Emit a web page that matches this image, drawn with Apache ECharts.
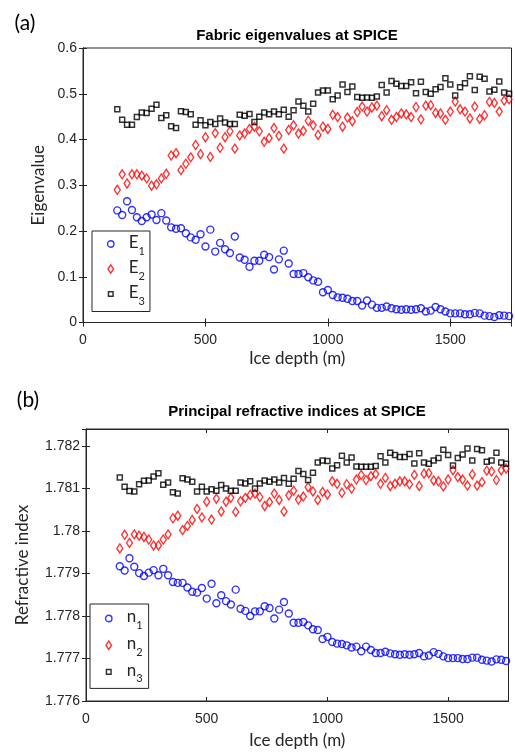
<!DOCTYPE html>
<html><head><meta charset="utf-8">
<script src="https://cdn.jsdelivr.net/npm/echarts@6/dist/echarts.min.js"></script>
<style>html,body{margin:0;padding:0;background:#fff;}#c{width:515px;height:754px;}</style>
</head><body><div id="c"></div>
<script>
const depth = [140,160,180,200,220,240,260,280,300,320,340,360,380,400,420,440,460,480,500,520,540,560,580,600,620,640,660,680,700,720,740,760,780,800,820,840,860,880,900,920,940,960,980,1000,1020,1040,1060,1080,1100,1120,1140,1160,1180,1200,1220,1240,1260,1280,1300,1320,1340,1360,1380,1400,1420,1440,1460,1480,1500,1520,1540,1560,1580,1600,1620,1640,1660,1680,1700,1720,1740];

const E1 = [0.245,0.235,0.265,0.246,0.230,0.222,0.230,0.236,0.224,0.239,0.223,0.208,0.205,0.206,0.195,0.186,0.181,0.193,0.166,0.203,0.155,0.174,0.160,0.152,0.188,0.142,0.137,0.122,0.135,0.135,0.148,0.143,0.116,0.138,0.157,0.129,0.106,0.106,0.108,0.099,0.092,0.089,0.066,0.071,0.060,0.055,0.054,0.052,0.047,0.047,0.037,0.048,0.039,0.032,0.032,0.035,0.031,0.029,0.028,0.029,0.028,0.029,0.031,0.024,0.026,0.034,0.029,0.024,0.020,0.020,0.020,0.018,0.018,0.021,0.020,0.015,0.014,0.012,0.016,0.015,0.014];
const E2 = [0.290,0.324,0.304,0.324,0.324,0.321,0.315,0.299,0.302,0.315,0.325,0.365,0.370,0.333,0.347,0.361,0.388,0.368,0.405,0.362,0.414,0.382,0.405,0.418,0.380,0.409,0.413,0.423,0.428,0.418,0.395,0.403,0.425,0.408,0.380,0.421,0.431,0.413,0.419,0.441,0.431,0.410,0.428,0.423,0.454,0.449,0.428,0.448,0.440,0.460,0.472,0.461,0.470,0.474,0.451,0.464,0.443,0.449,0.457,0.455,0.449,0.471,0.444,0.474,0.475,0.458,0.457,0.443,0.461,0.483,0.466,0.461,0.446,0.472,0.445,0.453,0.482,0.480,0.461,0.485,0.488];
const E3 = [0.466,0.443,0.432,0.432,0.449,0.459,0.458,0.467,0.476,0.447,0.453,0.429,0.425,0.462,0.460,0.455,0.432,0.442,0.431,0.438,0.434,0.446,0.437,0.434,0.434,0.454,0.452,0.456,0.438,0.450,0.459,0.455,0.461,0.455,0.465,0.450,0.464,0.483,0.474,0.461,0.478,0.503,0.507,0.507,0.488,0.496,0.520,0.504,0.516,0.493,0.491,0.492,0.491,0.494,0.519,0.503,0.528,0.522,0.517,0.517,0.525,0.501,0.526,0.504,0.500,0.510,0.515,0.534,0.520,0.496,0.514,0.523,0.538,0.508,0.537,0.533,0.505,0.509,0.527,0.503,0.500];

const n1 = [1.77917,1.77907,1.77936,1.77916,1.77901,1.77894,1.77902,1.77908,1.77896,1.77911,1.77896,1.77880,1.77878,1.77878,1.77867,1.77857,1.77855,1.77866,1.77841,1.77876,1.77830,1.77849,1.77835,1.77827,1.77862,1.77817,1.77812,1.77800,1.77811,1.77811,1.77823,1.77819,1.77794,1.77815,1.77833,1.77806,1.77784,1.77784,1.77786,1.77778,1.77769,1.77767,1.77746,1.77751,1.77739,1.77735,1.77734,1.77731,1.77726,1.77728,1.77717,1.77728,1.77720,1.77713,1.77713,1.77716,1.77712,1.77710,1.77709,1.77710,1.77709,1.77710,1.77713,1.77705,1.77707,1.77715,1.77711,1.77705,1.77701,1.77701,1.77701,1.77699,1.77699,1.77702,1.77702,1.77697,1.77695,1.77693,1.77698,1.77697,1.77694];
const n2 = [1.77959,1.77991,1.77972,1.77992,1.77989,1.77986,1.77980,1.77966,1.77966,1.77980,1.77992,1.78030,1.78036,1.78002,1.78012,1.78026,1.78052,1.78032,1.78069,1.78027,1.78076,1.78046,1.78069,1.78078,1.78045,1.78070,1.78078,1.78085,1.78088,1.78080,1.78059,1.78068,1.78088,1.78073,1.78046,1.78084,1.78095,1.78074,1.78081,1.78103,1.78093,1.78073,1.78092,1.78086,1.78117,1.78111,1.78090,1.78110,1.78100,1.78121,1.78132,1.78120,1.78129,1.78134,1.78111,1.78125,1.78106,1.78111,1.78117,1.78117,1.78110,1.78132,1.78106,1.78135,1.78136,1.78119,1.78117,1.78105,1.78121,1.78143,1.78127,1.78121,1.78107,1.78133,1.78107,1.78115,1.78142,1.78140,1.78120,1.78143,1.78147];
const n3 = [1.78126,1.78104,1.78094,1.78093,1.78110,1.78118,1.78119,1.78128,1.78136,1.78109,1.78114,1.78091,1.78088,1.78124,1.78121,1.78116,1.78093,1.78104,1.78093,1.78098,1.78095,1.78108,1.78100,1.78095,1.78095,1.78114,1.78112,1.78117,1.78100,1.78112,1.78119,1.78116,1.78121,1.78114,1.78125,1.78111,1.78123,1.78141,1.78134,1.78120,1.78137,1.78161,1.78166,1.78165,1.78147,1.78155,1.78177,1.78161,1.78173,1.78152,1.78151,1.78151,1.78151,1.78153,1.78176,1.78161,1.78184,1.78179,1.78174,1.78174,1.78181,1.78159,1.78183,1.78161,1.78158,1.78166,1.78172,1.78191,1.78179,1.78154,1.78172,1.78180,1.78194,1.78166,1.78193,1.78190,1.78163,1.78166,1.78184,1.78161,1.78158];

const xTicks = [0, 500, 1000, 1500];
const yTicksA = [0, 0.1, 0.2, 0.3, 0.4, 0.5, 0.6];
const yTicksB = [1.776, 1.777, 1.778, 1.779, 1.78, 1.781, 1.782];

const TXT = '#262626';
const tickFont = '"Liberation Sans", Arial, sans-serif';
const nameFont = 'Lato, "Open Sans", sans-serif';

const pairs = ys => depth.map((d, i) => [d, ys[i]]);

function xAx(grid, pos, show, gap) {
  return {
    type: 'value', gridIndex: grid, position: pos, min: 0, max: 1750, interval: 500,
    axisLine: { show: true, lineStyle: { color: TXT, width: 1 } },
    axisTick: { show: true, inside: true, length: 4, lineStyle: { color: TXT } },
    axisLabel: { show: show, color: TXT, fontSize: 14, fontFamily: tickFont, margin: 11,
      formatter: v => xTicks.includes(v) ? String(v) : '' },
    splitLine: { show: false },
    name: show ? 'Ice depth (m)' : '', nameLocation: 'middle', nameGap: gap,
    nameTextStyle: { color: TXT, fontSize: 17, fontFamily: nameFont }
  };
}
function yAx(grid, pos, show, min, max, interval, ticks, name, gap) {
  return {
    type: 'value', gridIndex: grid, position: pos, min: min, max: max, interval: interval,
    axisLine: { show: true, lineStyle: { color: TXT, width: 1 } },
    axisTick: { show: true, inside: true, length: 4, lineStyle: { color: TXT } },
    axisLabel: { show: show, color: TXT, fontSize: 14, fontFamily: tickFont, margin: 6,
      formatter: v => {
        const t = ticks.find(k => Math.abs(k - v) < interval * 1e-3);
        return t === undefined ? '' : String(t);
      } },
    splitLine: { show: false },
    name: show ? name : '', nameLocation: 'middle', nameGap: gap,
    nameTextStyle: { color: TXT, fontSize: 17, fontFamily: nameFont }
  };
}

const circleStyle = { color: 'rgba(0,0,0,0)', borderColor: '#0000ff', borderWidth: 1.4 };
const diamondStyle = { color: 'rgba(0,0,0,0)', borderColor: '#ff0000', borderWidth: 1.4 };
const squareStyle = { color: 'rgba(0,0,0,0)', borderColor: '#000000', borderWidth: 1.5 };

function scat(name, ys, xi, yi, symbol, size, style) {
  return { type: 'scatter', name: name, xAxisIndex: xi, yAxisIndex: yi, data: pairs(ys),
    symbol: symbol, symbolSize: size, itemStyle: style, silent: true, z: 3 };
}

const iconCircle = 'path://M0,0M9,9M7.7,4.5A3.2,3.2,0,1,1,1.3,4.5A3.2,3.2,0,1,1,7.7,4.5Z';
const iconDiamond = 'path://M0,0M9,9M4.5,0.3L7.3,4.5L4.5,8.7L1.7,4.5Z';
const iconSquare = 'path://M0,0M9,9M2.2,2.2L6.8,2.2L6.8,6.8L2.2,6.8Z';

const rich = {
  b: { fontSize: 17, lineHeight: 20, verticalAlign: 'top', padding: [0, 0, 0, 8.5], fontFamily: nameFont, color: TXT },
  s: { fontSize: 11, lineHeight: 12, padding: [11.5, 0, 0, 0], verticalAlign: 'top', fontFamily: nameFont, color: TXT }
};
function legend(names, left, top, gap, pad) {
  return {
    orient: 'vertical', left: left, top: top, itemWidth: 9, itemHeight: 9, itemGap: gap,
    padding: pad, borderColor: '#262626', borderWidth: 1, backgroundColor: '#fff',
    symbolKeepAspect: true,
    data: [
      { name: names[0], icon: iconCircle, itemStyle: circleStyle },
      { name: names[1], icon: iconDiamond, itemStyle: diamondStyle },
      { name: names[2], icon: iconSquare, itemStyle: squareStyle }
    ],
    formatter: n => '{b|' + n.charAt(0) + '}{s|' + n.slice(1) + '}',
    textStyle: { rich: rich }, selectedMode: false
  };
}

const chart = echarts.init(document.getElementById('c'), null, { renderer: 'canvas' });
chart.setOption({
  animation: false,
  backgroundColor: '#ffffff',
  grid: [
    { left: 83, top: 48, width: 428.5, height: 274.5, show: true, borderColor: TXT, borderWidth: 1, containLabel: false },
    { left: 86, top: 429, width: 422.5, height: 272, show: true, borderColor: TXT, borderWidth: 1, containLabel: false }
  ],
  xAxis: [ xAx(0, 'bottom', true, 28), xAx(0, 'top', false, 0), xAx(1, 'bottom', true, 31), xAx(1, 'top', false, 0) ],
  yAxis: [
    yAx(0, 'left', true, 0, 0.6, 0.1, yTicksA, 'Eigenvalue', 30),
    yAx(0, 'right', false, 0, 0.6, 0.1, yTicksA, '', 0),
    yAx(1, 'left', true, 1.776, 1.7824, 0.001, yTicksB, 'Refractive index', 55),
    yAx(1, 'right', false, 1.776, 1.7824, 0.001, yTicksB, '', 0)
  ],
  legend: [
    legend(['E1', 'E2', 'E3'], 92, 231, 2.5, [3, 5, 5, 13.5]),
    legend(['n1', 'n2', 'n3'], 90, 604, 4.2, [4.5, 6, 4, 13.5])
  ],
  graphic: [
    { type: 'text', x: 25, y: 23, style: { text: '(a)', fill: '#000', fontSize: 21, fontFamily: nameFont, align: 'center', verticalAlign: 'middle' } },
    { type: 'text', x: 28, y: 400, style: { text: '(b)', fill: '#000', fontSize: 21, fontFamily: nameFont, align: 'center', verticalAlign: 'middle' } },
    { type: 'text', x: 297, y: 36, style: { text: 'Fabric eigenvalues at SPICE', fill: '#000', fontSize: 15, fontWeight: 'bold', fontFamily: tickFont, align: 'center', verticalAlign: 'middle' } },
    { type: 'text', x: 297, y: 412, style: { text: 'Principal refractive indices at SPICE', fill: '#000', fontSize: 15, fontWeight: 'bold', fontFamily: tickFont, align: 'center', verticalAlign: 'middle' } }
  ],
  series: [
    scat('E1', E1, 0, 0, 'circle', 7, circleStyle),
    scat('E2', E2, 0, 0, 'diamond', [6, 9], diamondStyle),
    scat('E3', E3, 0, 0, 'rect', 5, squareStyle),
    scat('n1', n1, 2, 2, 'circle', 7, circleStyle),
    scat('n2', n2, 2, 2, 'diamond', [6, 9], diamondStyle),
    scat('n3', n3, 2, 2, 'rect', 5, squareStyle)
  ]
});
</script>
</body></html>
